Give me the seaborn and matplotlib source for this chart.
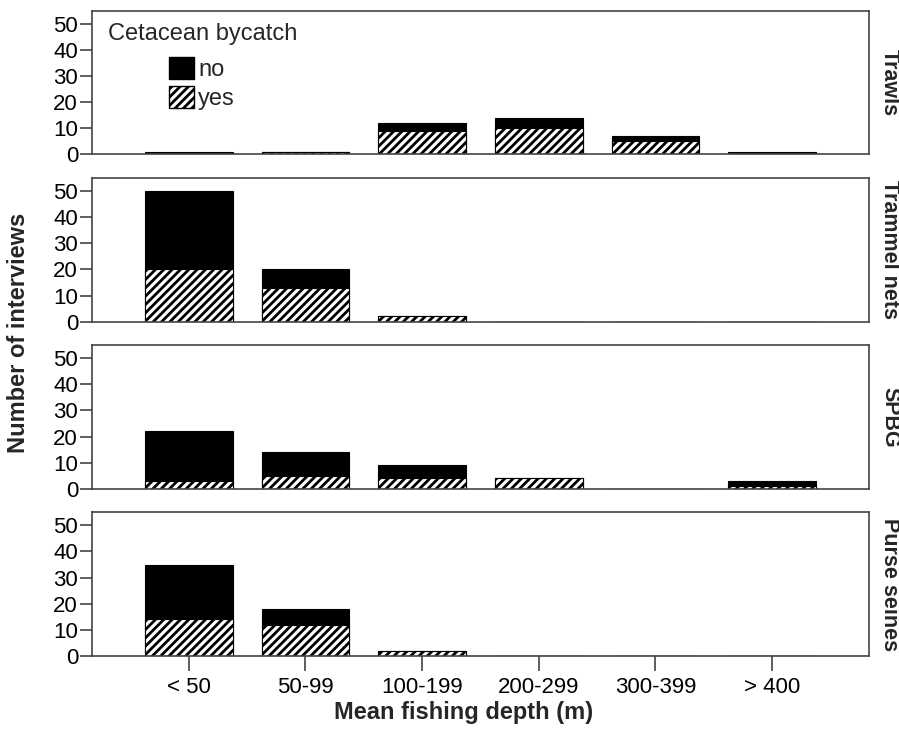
import numpy as np
import pandas as pd
import matplotlib
matplotlib.use("Agg")
import matplotlib.pyplot as plt
from matplotlib.patches import Patch
import seaborn as sns

# ---- data ----
categories = ["< 50", "50-99", "100-199", "200-299", "300-399", "> 400"]
gears = ["Trawls", "Trammel nets", "SPBG", "Purse seines"]
trawls_yes = [0, 1, 9, 10, 5, 0]
trawls_no = [1, 0, 3, 4, 2, 1]
trammel_yes = [20, 13, 2, 0, 0, 0]
trammel_no = [30, 7, 0, 0, 0, 0]
spbg_yes = [3, 5, 4, 4, 0, 1]
spbg_no = [19, 9, 5, 0, 0, 2]
purse_yes = [14, 12, 2, 0, 0, 0]
purse_no = [21, 6, 0, 0, 0, 0]
yticks = [0, 10, 20, 30, 40, 50]

yes_by_gear = [trawls_yes, trammel_yes, spbg_yes, purse_yes]
no_by_gear = [trawls_no, trammel_no, spbg_no, purse_no]

rows = []
for g, ys, ns in zip(gears, yes_by_gear, no_by_gear):
    for c, y, n in zip(categories, ys, ns):
        rows.append({"gear": g, "depth": c, "yes": y, "no": n, "total": y + n})
df = pd.DataFrame(rows)

sns.set_theme(style="ticks")
plt.rcParams["font.family"] = ["Liberation Sans", "DejaVu Sans"]
plt.rcParams["hatch.linewidth"] = 2.0
plt.rcParams["hatch.color"] = "black"

fig = plt.figure(figsize=(8.99, 7.33), dpi=100)
axes = fig.subplots(4, 1, sharex=True)
fig.subplots_adjust(left=0.1023, right=0.9666, top=0.9854, bottom=0.105, hspace=0.163)

spine_col = "#444444"
HATCH = "////"
for i, (ax, g) in enumerate(zip(axes, gears)):
    d = df[df["gear"] == g]
    sns.barplot(data=d, x="depth", y="total", order=categories, color="black",
                saturation=1, width=0.75, edgecolor="black", linewidth=0.8,
                errorbar=None, ax=ax)
    sns.barplot(data=d, x="depth", y="yes", order=categories, color="white",
                saturation=1, width=0.75, edgecolor="black", linewidth=0.8,
                hatch=HATCH, errorbar=None, ax=ax)
    ax.set_xlim(-0.83, 5.83)
    ax.set_ylim(0, 55)
    ax.set_yticks(yticks)
    ax.set_xlabel("")
    ax.set_ylabel("")
    for s in ax.spines.values():
        s.set_visible(True)
        s.set_color(spine_col)
        s.set_linewidth(1.2)
    ax.tick_params(axis="y", direction="out", length=9, width=1.2, color=spine_col,
                   pad=1, labelsize=16, labelcolor="black")
    if i < 3:
        ax.tick_params(axis="x", bottom=False, labelbottom=False)
    else:
        ax.tick_params(axis="x", direction="out", length=11, width=1.2, color=spine_col,
                       pad=4, labelsize=16, labelcolor="black")
    ax.text(1.0 + 10 / 777, 0.5, g, transform=ax.transAxes, rotation=270,
            ha="left", va="center", fontsize=15.5, fontweight="bold")

# legend on first panel
ax0 = axes[0]
ax0.text(0.0206, 0.835, "Cetacean bycatch", transform=ax0.transAxes,
         ha="left", va="center", fontsize=17)
handles = [Patch(facecolor="black", edgecolor="black"),
           Patch(facecolor="white", edgecolor="black", hatch=HATCH)]
ax0.legend(handles, ["no", "yes"], loc="upper left", bbox_to_anchor=(0.099, 0.675),
           frameon=False, fontsize=17, handlelength=1.05, handleheight=1.05,
           handletextpad=0.2, labelspacing=0.2, borderpad=0, borderaxespad=0)

fig.text(19 / 899, 1 - 333 / 733, "Number of interviews", rotation=90,
         ha="center", va="center", fontsize=17, fontweight="bold")
fig.text(464 / 899, 1 - 713 / 733, "Mean fishing depth (m)",
         ha="center", va="center", fontsize=17, fontweight="bold")

fig.savefig("out.png", dpi=100)
